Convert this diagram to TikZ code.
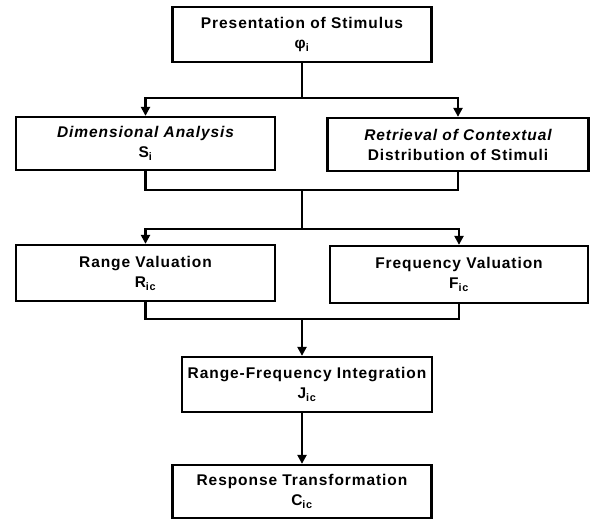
\documentclass[tikz,border=0pt]{standalone}
\usepackage{fontspec}
\setmainfont{Liberation Sans}[LetterSpace=6]
\usepackage{tikz}
\usetikzlibrary{arrows.meta}

\begin{document}
\begin{tikzpicture}[x=1pt, y=-1pt,
    stagebox/.style={draw, line width=2.3pt, inner sep=0pt, align=center,
        font=\fontsize{15.5}{20}\selectfont\bfseries},
    flow/.style={line width=2.3pt},
    >={Triangle[width=9pt, length=9pt]}]
\useasboundingbox (0,0) rectangle (590,520);
% stages
\node[stagebox, minimum width=259pt, minimum height=55pt] (pres) at (302,34.5)
    {Presentation of Stimulus\\φ\textsubscript{i}};
\node[stagebox, minimum width=259pt, minimum height=53pt] (dim) at (145.5,143.5)
    {\itshape Dimensional Analysis\\S\textsubscript{i}};
\node[stagebox, minimum width=261pt, minimum height=53pt] (ret) at (458,144.5)
    {\itshape Retrieval of Contextual\\Distribution of Stimuli};
\node[stagebox, minimum width=259pt, minimum height=56pt] (range) at (145.5,273)
    {Range Valuation\\R\textsubscript{ic}};
\node[stagebox, minimum width=258pt, minimum height=57pt] (freq) at (459,274.5)
    {Frequency Valuation\\F\textsubscript{ic}};
\node[stagebox, minimum width=250pt, minimum height=55pt] (rf) at (307,384.5)
    {Range-Frequency Integration\\J\textsubscript{ic}};
\node[stagebox, minimum width=259pt, minimum height=53pt] (resp) at (302,491.5)
    {Response Transformation\\C\textsubscript{ic}};
% junctions on the trunk
\coordinate (split1) at (302,98);
\coordinate (join1) at (302,190);
\coordinate (split2) at (302,229);
\coordinate (join2) at (302,319);
% connectors
\draw[flow] (pres.south) -- (split1);
\draw[flow, ->] (split1) -| (dim.north);
\draw[flow, ->] (split1) -| (ret.north);
\draw[flow] (dim.south) |- (join1) -| (ret.south);
\draw[flow] (join1) -- (split2);
\draw[flow, ->] (split2) -| (range.north);
\draw[flow, ->] (split2) -| (freq.north);
\draw[flow] (range.south) |- (join2) -| (freq.south);
\draw[flow, ->] (join2) -- (join2 |- rf.north);
\draw[flow, ->] (join2 |- rf.south) -- (resp.north);
\end{tikzpicture}
\end{document}
